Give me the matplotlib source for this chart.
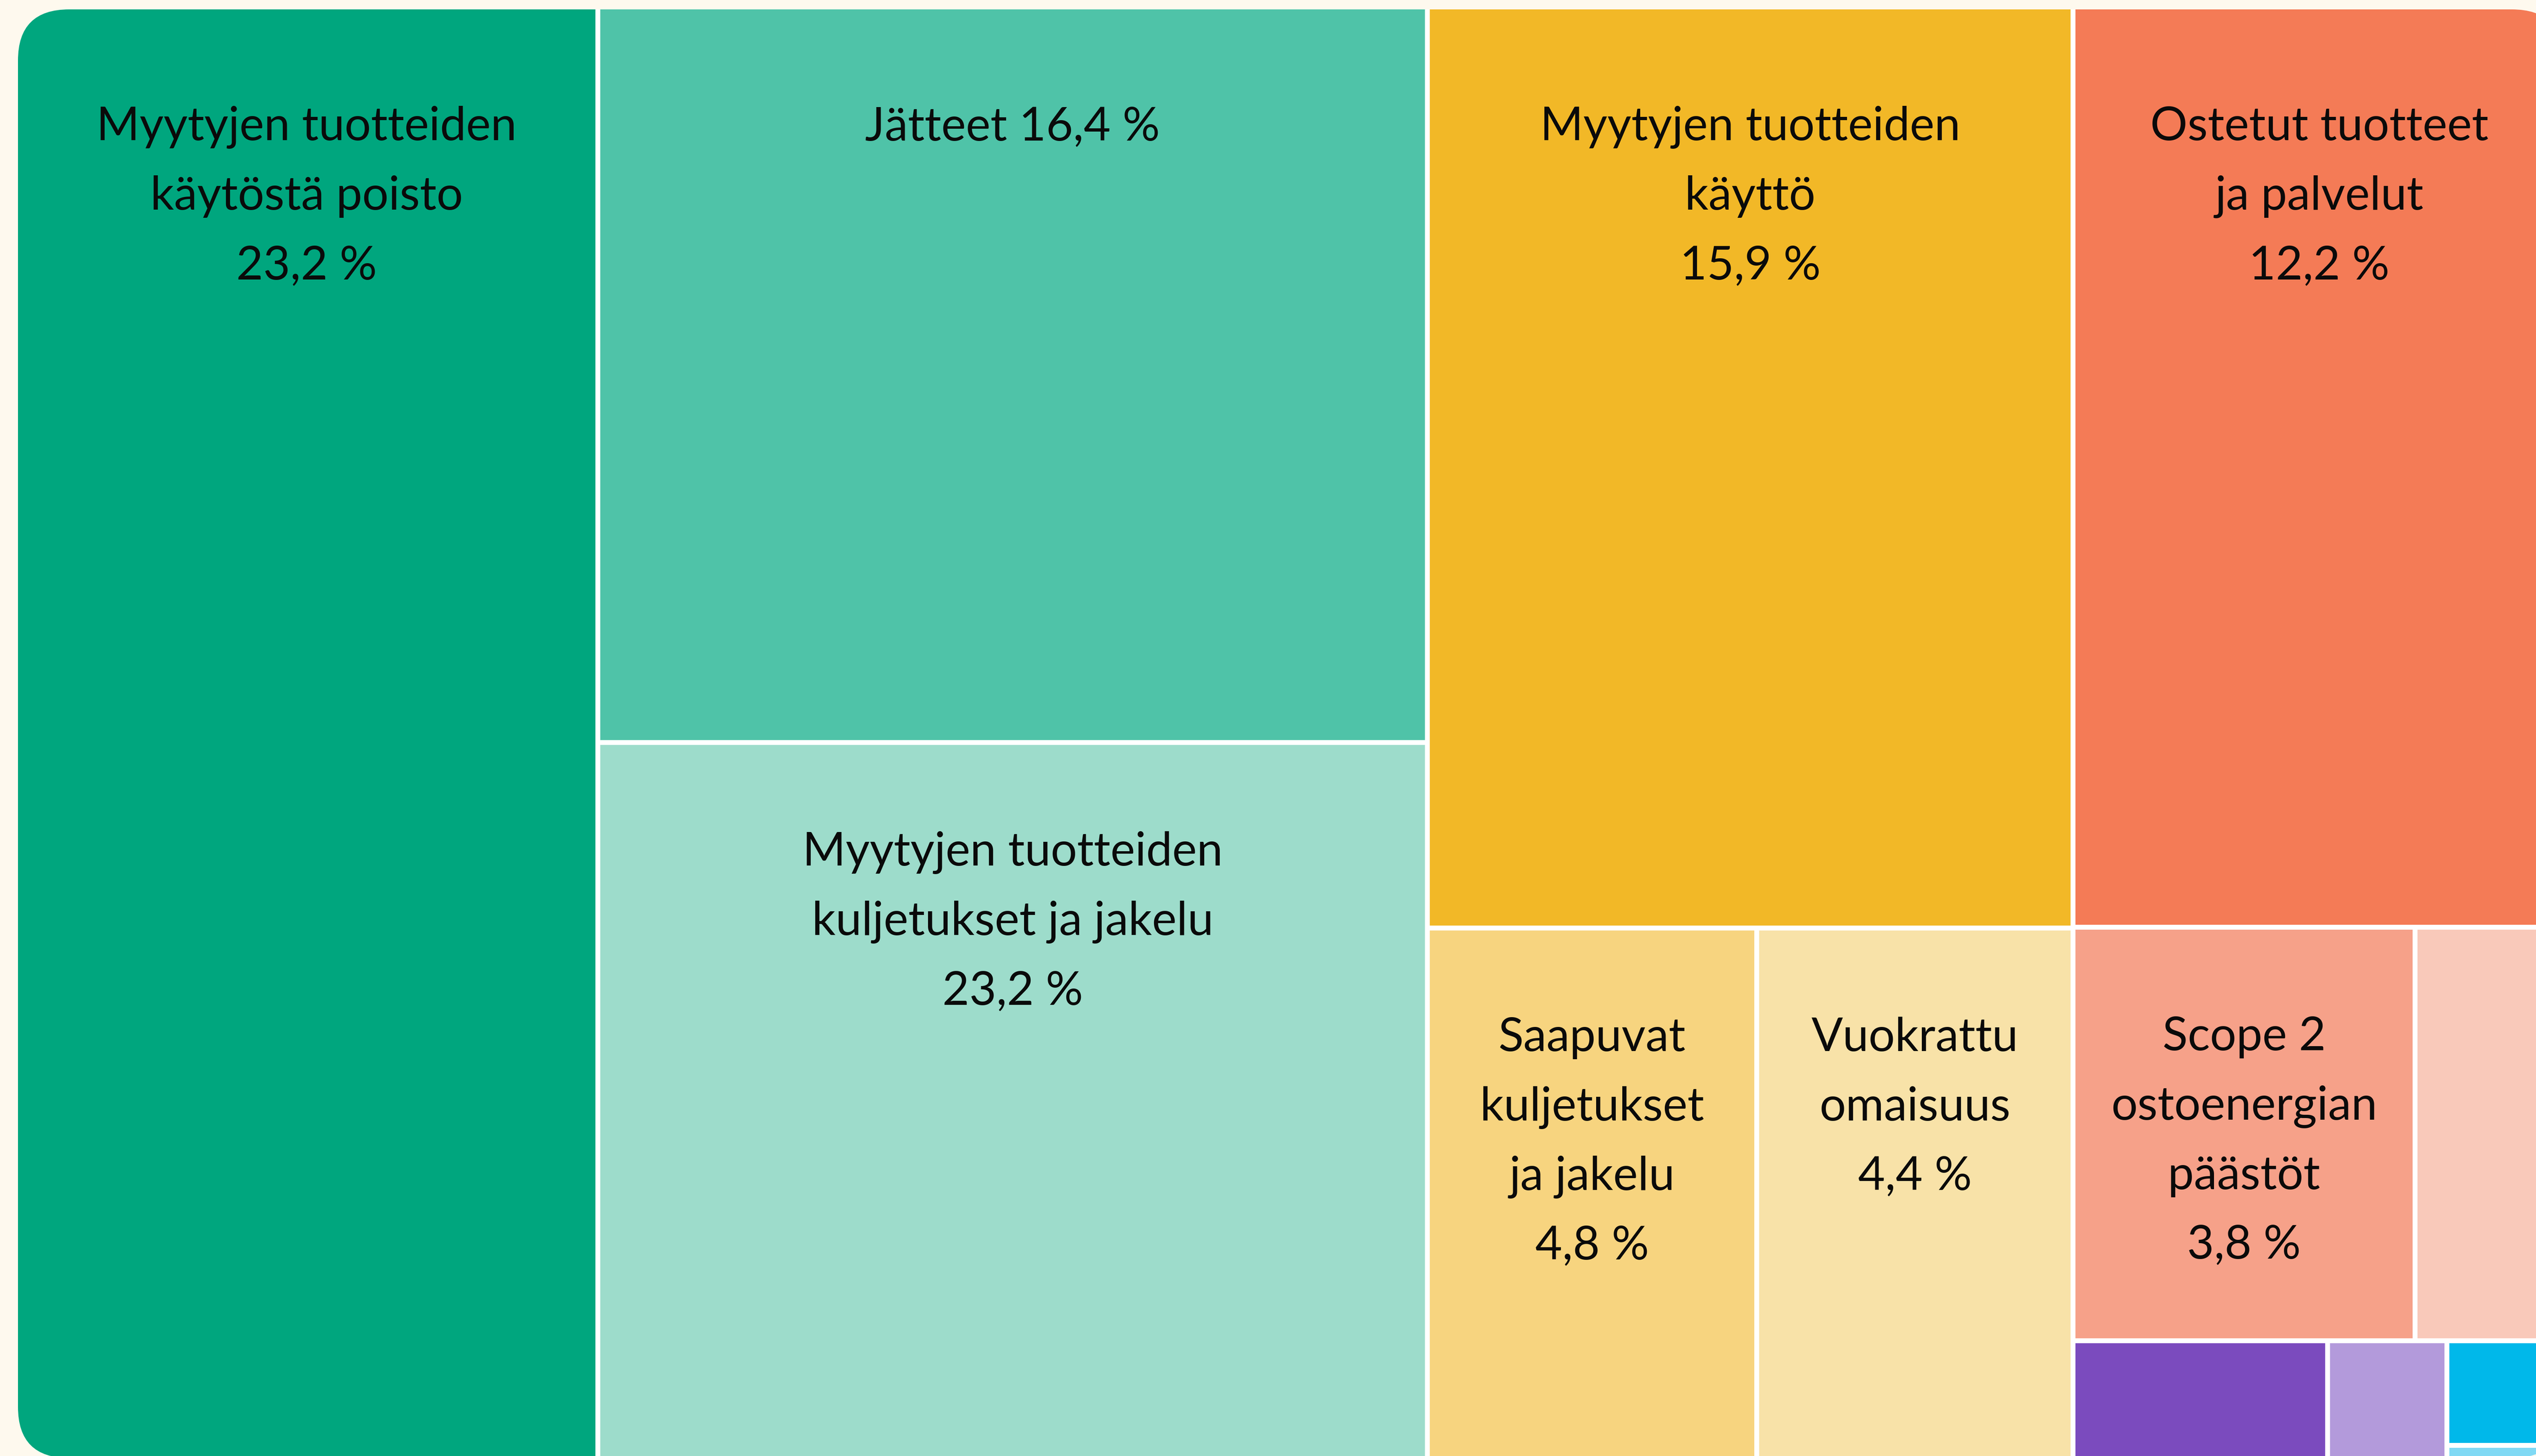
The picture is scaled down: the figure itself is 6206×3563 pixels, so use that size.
import matplotlib
matplotlib.use("Agg")
import matplotlib.pyplot as plt
from matplotlib.patches import Rectangle, FancyBboxPatch

# ---------------- data ----------------
categories = [
    "Myytyjen tuotteiden\nkäytöstä poisto",
    "Jätteet",
    "Myytyjen tuotteiden\nkuljetukset ja jakelu",
    "Myytyjen tuotteiden\nkäyttö",
    "Ostetut tuotteet\nja palvelut",
    "Saapuvat\nkuljetukset\nja jakelu",
    "Vuokrattu\nomaisuus",
    "Scope 2\nostoenergian\npäästöt",
    "", "", "", "", "",
]
# printed value labels
value_labels = ["23,2 %", "16,4 %", "23,2 %", "15,9 %", "12,2 %", "4,8 %", "4,4 %", "3,8 %",
                "", "", "", "", ""]
# cell sizes (share of the total area, %)
sizes = [22.8, 16.5, 16.1, 16.1, 12.2, 4.74, 4.55, 3.84, 1.66, 0.81, 0.38, 0.33, 0.04]
colors = ["#00A67E", "#4FC3A8", "#9DDCCB", "#F2B827", "#F47B56", "#F7D47F", "#F8E2A8",
          "#F6A189", "#F9C9BA", "#7B4BBE", "#B39ADB", "#00B8EA", "#80D9F4"]
# label on one line (name + value) or on separate lines
inline_label = [False, True, False, False, False, False, False, False,
                False, False, False, False, False]

# nesting of the treemap: 'h' = children side by side, 'v' = children stacked
tree = ('h', [0,
              ('v', [1, 2]),
              ('v', [3, ('h', [5, 6])]),
              ('v', [4, ('h', [7, 8]), ('h', [9, 10, ('v', [11, 12])])])])

# ---------------- layout / style ----------------
W, H = 6206, 3563
BG = "#FEF9EE"
X0, Y0, TW, TH = 44, 23, 6228, 3545   # treemap frame (partly outside the canvas)
GAP = 12
RADIUS = 125
FONT = ["Lato", "DejaVu Sans"]
FS = 82
LINE = 170
PAD_TOP = 320   # first baseline below the frame top
PAD = 295       # first baseline below an inner cell top


def node_value(node):
    if isinstance(node, int):
        return sizes[node]
    return sum(node_value(c) for c in node[1])


def layout(node, x, y, w, h, out):
    if isinstance(node, int):
        out[node] = (x, y, w, h)
        return
    orient, children = node
    total = sum(node_value(c) for c in children)
    pos = x if orient == 'h' else y
    for c in children:
        frac = node_value(c) / total
        if orient == 'h':
            cw = w * frac
            layout(c, pos, y, cw, h, out)
            pos += cw
        else:
            ch = h * frac
            layout(c, x, pos, w, ch, out)
            pos += ch


rects = {}
layout(tree, X0, Y0, TW, TH, rects)

fig = plt.figure(figsize=(W / 100, H / 100), dpi=100, facecolor=BG)
ax = fig.add_axes([0, 0, 1, 1])
ax.set_xlim(0, W)
ax.set_ylim(H, 0)
ax.set_facecolor(BG)
ax.axis("off")

frame = FancyBboxPatch((X0, Y0), TW, TH,
                       boxstyle=f"round,pad=0,rounding_size={RADIUS}",
                       facecolor="white", edgecolor="none", zorder=1)
ax.add_patch(frame)

tol = 1.0
for i in range(len(sizes)):
    x, y, w, h = rects[i]
    l, r, t, b = x, x + w, y, y + h
    at_top = abs(t - Y0) <= tol
    if abs(l - X0) > tol:
        l += GAP / 2
    if abs(r - (X0 + TW)) > tol:
        r -= GAP / 2
    if not at_top:
        t += GAP / 2
    if abs(b - (Y0 + TH)) > tol:
        b -= GAP / 2
    p = Rectangle((l, t), r - l, b - t, facecolor=colors[i], edgecolor="none", zorder=2)
    ax.add_patch(p)
    p.set_clip_path(frame)

    if not categories[i]:
        continue
    if inline_label[i]:
        lines = [categories[i] + " " + value_labels[i]]
    else:
        lines = categories[i].split("\n") + [value_labels[i]]
    cx = (l + r) / 2
    pad = PAD_TOP if at_top else PAD
    for k, line in enumerate(lines):
        ax.text(cx, t + pad + k * LINE, line, ha="center", va="baseline",
                fontsize=FS, family=FONT, color="#0a0a0a", zorder=3)

fig.savefig("out.png", dpi=100, facecolor=BG)
